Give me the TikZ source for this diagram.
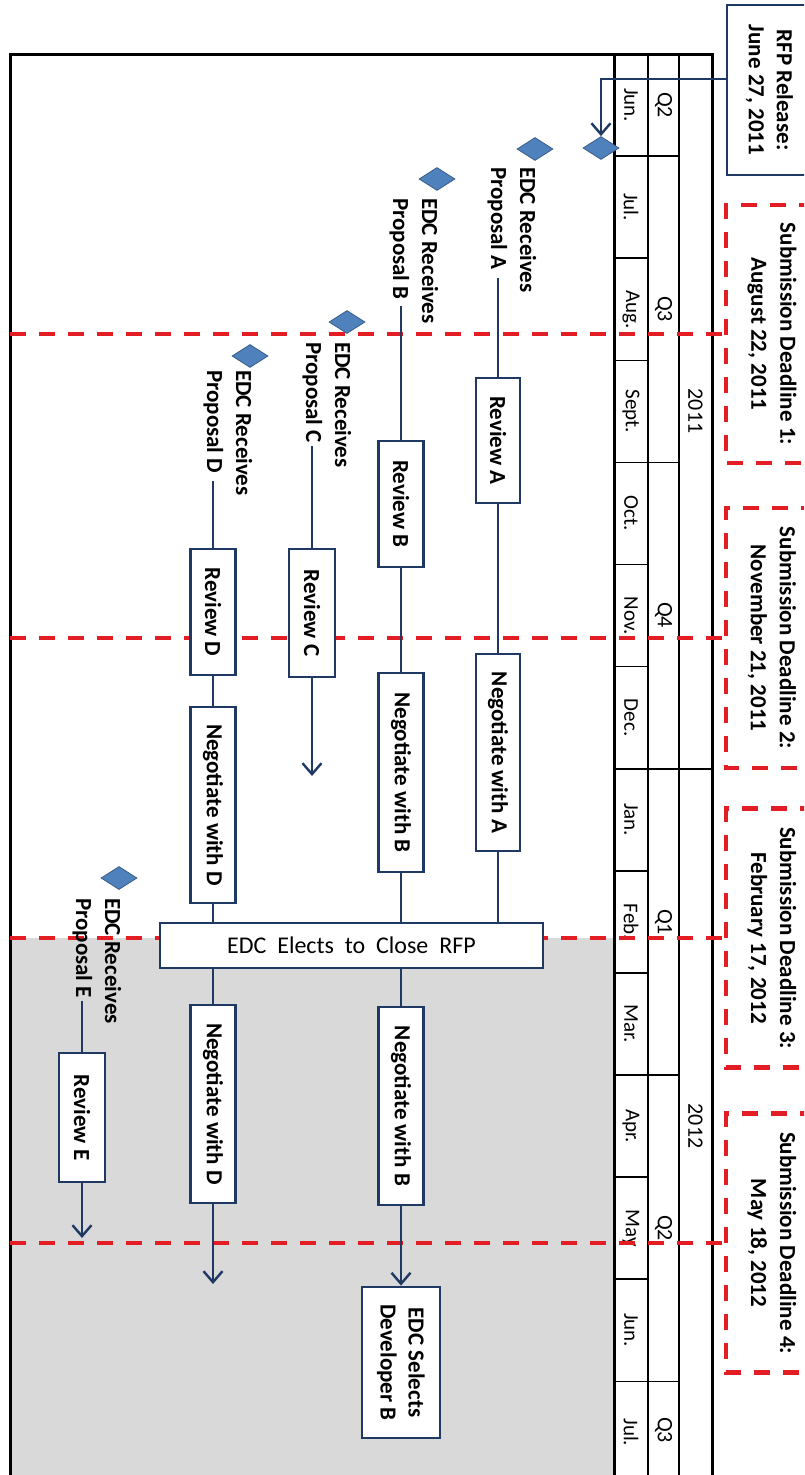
\documentclass[tikz,border=0pt]{standalone}
\usepackage{fontspec}
\setmainfont{Carlito}
\usetikzlibrary{shapes.geometric,arrows.meta,calc}
\definecolor{navy}{RGB}{31,56,100}
\definecolor{redc}{RGB}{226,30,36}
\definecolor{grayc}{RGB}{217,217,217}
\definecolor{diaf}{RGB}{79,129,189}
\definecolor{diab}{RGB}{56,93,138}
\pgfdeclarelayer{bg}
\pgfsetlayers{bg,main}
\begin{document}
\begin{tikzpicture}[x=1pt,y=-1pt,
  bx/.style={draw=navy,line width=2.8pt,fill=white,rotate=-90,inner sep=0pt,align=center,font=\bfseries\fontsize{23}{28}\selectfont},
  lbl/.style={rotate=-90,anchor=west,inner sep=0pt,align=left,font=\bfseries\fontsize{23}{29}\selectfont},
  dbx/.style={draw=redc,line width=4.5pt,dash pattern=on 16pt off 13pt,rotate=-90,inner sep=0pt,align=center,font=\bfseries\fontsize{23}{29}\selectfont},
  dia/.style={diamond,draw=diab,fill=diaf,line width=0.8pt,inner sep=0pt,minimum width=36pt,minimum height=23pt,shape aspect=1.6},
  ln/.style={draw=navy,line width=2.4pt},
  arr/.style={draw=navy,line width=2.4pt,-{Straight Barb[length=11pt,width=19pt]}},
  rl/.style={draw=redc,line width=4.5pt,dash pattern=on 16pt off 13pt},
  mon/.style={rotate=-90,inner sep=0pt,font=\fontsize{21}{24}\selectfont},
  qtr/.style={rotate=-90,inner sep=0pt,font=\fontsize{22}{24}\selectfont},
  thk/.style={draw=black,line width=3pt},
  thn/.style={draw=black,line width=1.6pt}]
\useasboundingbox (0,0) rectangle (804,1475);
\clip (0,0) rectangle (804,1475);

% top boxes
\node[bx,minimum width=170pt,minimum height=85pt] (RFP) at (769.5,90) {RFP Release:\\June 27, 2011};
\node[dbx,minimum width=258pt,minimum height=92pt] (DL1) at (772,334) {Submission Deadline 1:\\August 22, 2011};
\node[dbx,minimum width=260pt,minimum height=92pt] (DL2) at (772,638) {Submission Deadline 2:\\November 21, 2011};
\node[dbx,minimum width=259pt,minimum height=92pt] (DL3) at (772,938) {Submission Deadline 3:\\February 17, 2012};
\node[dbx,minimum width=259pt,minimum height=92pt] (DL4) at (772,1243) {Submission Deadline 4:\\May 18, 2012};

% diamonds
\node[dia] (d0) at (601,148) {};
\node[dia] (dA) at (535,149) {};
\node[dia] (dB) at (437,179) {};
\node[dia] (dC) at (347,322) {};
\node[dia] (dD) at (250,356) {};
\node[dia] (dE) at (119,878) {};

% labels
\node[lbl] (lA) at (512,167) {EDC Receives\\Proposal A};
\node[lbl] (lB) at (414,198) {EDC Receives\\Proposal B};
\node[lbl] (lC) at (327,342) {EDC Receives\\Proposal C};
\node[lbl] (lD) at (228,370) {EDC Receives\\Proposal D};
\node[lbl] (lE) at (97,898) {EDC Receives\\Proposal E};

\coordinate (sA) at (498,278);
\coordinate (sB) at (401,306);
\coordinate (sC) at (312,446);
\coordinate (sD) at (213,481);
\coordinate (sE) at (82,1001);
\coordinate (eC) at (312,776);
\coordinate (eD) at (213,1284);
\coordinate (eE) at (82,1238);

% process boxes
\node[bx,minimum width=125pt,minimum height=44pt] (RA) at (498,440.5) {Review A};
\node[bx,minimum width=197pt,minimum height=44pt] (NA) at (498,752.5) {Negotiate with A};
\node[bx,minimum width=126pt,minimum height=45pt] (RB) at (401,504) {Review B};
\node[bx,minimum width=199pt,minimum height=45pt] (NB) at (401,772.5) {Negotiate with B};
\node[bx,minimum width=128pt,minimum height=46pt] (RC) at (312,613) {Review C};
\node[bx,minimum width=126pt,minimum height=45pt] (RD) at (213,612) {Review D};
\node[bx,minimum width=196pt,minimum height=45pt] (ND) at (213,805) {Negotiate with D};
\node[draw=navy,line width=2.8pt,fill=white,minimum width=383pt,minimum height=45pt,inner sep=0pt,font=\fontsize{24}{28}\selectfont] (EL) at (351.5,945.5) {EDC~ Elects~ to~ Close~ RFP};
\node[bx,minimum width=198pt,minimum height=45pt] (ND2) at (213,1104) {Negotiate with D};
\node[bx,minimum width=198pt,minimum height=45pt] (NB2) at (401,1106) {Negotiate with B};
\node[bx,minimum width=129pt,minimum height=46pt] (RE) at (82,1117.5) {Review E};
\node[bx,minimum width=151pt,minimum height=78pt] (SEL) at (401,1362.5) {EDC Selects\\Developer B};

% connectors
\draw[arr] ($(RFP.south west)!0.435!(RFP.south east)$) -| (d0.north);
\draw[ln] (sA) -- (RA.west);
\draw[ln] (RA.east) -- (NA.west);
\draw[ln] (NA.east) -- (NA.east |- EL.north);
\draw[ln] (sB) -- (RB.west);
\draw[ln] (RB.east) -- (NB.west);
\draw[ln] (NB.east) -- (NB.east |- EL.north);
\draw[ln] (NB2.west |- EL.south) -- (NB2.west);
\draw[arr] (NB2.east) -- (SEL.west);
\draw[ln] (sC) -- (RC.west);
\draw[arr] (RC.east) -- (eC);
\draw[ln] (sD) -- (RD.west);
\draw[ln] (RD.east) -- (ND.west);
\draw[ln] (ND.east) -- (ND.east |- EL.north);
\draw[ln] (ND2.west |- EL.south) -- (ND2.west);
\draw[arr] (ND2.east) -- (eD);
\draw[ln] (sE) -- (RE.west);
\draw[arr] (RE.east) -- (eE);

\begin{pgfonlayer}{bg}
\clip (0,0) rectangle (804,1475);
\coordinate (fl) at (10,0);
\fill[grayc] (fl |- DL3.south) rectangle (614,1480);
\draw[thk] (10,1480) -- (10,54) -- (712,54) -- (712,1480);
\draw[thk] (614,54) -- (614,1480);
\draw[thn] (648,54) -- (648,1480);
\draw[thn] (679,54) -- (679,1480);
\foreach \k in {1,...,14} \draw[thn] (614,{54+102.1*\k}) -- (648,{54+102.1*\k});
\foreach \k in {1,4,7,10,13} \draw[thn] (614,{54+102.1*\k}) -- (679,{54+102.1*\k});
\draw[thn] (614,{54+102.1*7}) -- (712,{54+102.1*7});
\foreach \m [count=\i] in {Jun.,Jul.,Aug.,Sept.,Oct.,Nov.,Dec.,Jan.,Feb.,Mar.,Apr.,May,Jun.,Jul.}
  \node[mon] (mo\i) at (631,{54+102.1*(\i-0.5)}) {\m};
\foreach \q/\yy/\i in {Q2/105/1,Q3/309/2,Q4/615/3,Q1/922/4,Q2/1228/5,Q3/1430/6}
  \node[qtr] (q\i) at (663.5,\yy) {\q};
\node[qtr] (y1) at (695.5,411) {2011};
\node[qtr] (y2) at (695.5,1126) {2012};
\draw[rl] (fl |- DL1.south) -- (DL1.south);
\draw[rl] (fl |- DL2.south) -- (DL2.south);
\draw[rl] (fl |- DL3.south) -- (DL3.south);
\draw[rl] (fl |- DL4.south) -- (DL4.south);
\end{pgfonlayer}
\end{tikzpicture}
\end{document}
